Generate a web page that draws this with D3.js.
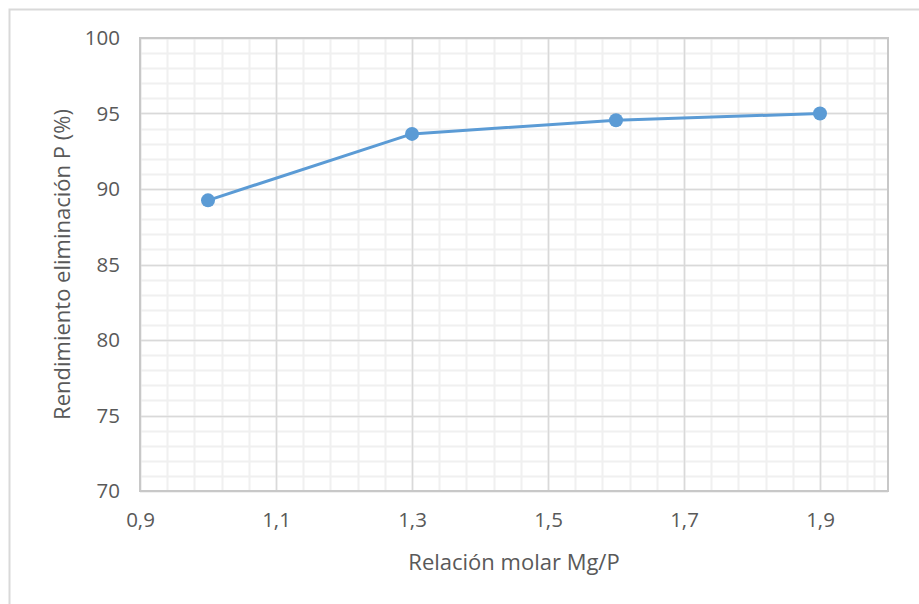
<!DOCTYPE html>
<html>
<head>
<meta charset="utf-8">
<script src="https://cdn.jsdelivr.net/npm/d3@7"></script>
<style>
  body { margin: 0; background: #fff; }
  svg { display: block; }
</style>
</head>
<body>
<svg id="chart" width="919" height="604"></svg>
<script>
// data
var ratios = [1.0, 1.3, 1.6, 1.9];
var yields = [89.25, 93.65, 94.55, 95.0];
var xTicks = [0.9, 1.1, 1.3, 1.5, 1.7, 1.9];
var yTicks = [70, 75, 80, 85, 90, 95, 100];
var xTitle = "Relación molar Mg/P";
var yTitle = "Rendimiento eliminación P (%)";

var W = 919, H = 604;
var MARGIN_LEFT = 140, MARGIN_TOP = 38, PLOT_RIGHT = 888, PLOT_BOTTOM = 491;
var FONT = "'Open Sans', sans-serif";
var TEXT_COLOR = "#595959";

var svg = d3.select("#chart");

// outer chart border (runs past right/bottom edges)
svg.append("rect")
    .attr("x", 9.5).attr("y", 9.5)
    .attr("width", W + 10).attr("height", H + 10)
    .attr("fill", "#fff")
    .attr("stroke", "#d9d9d9")
    .attr("stroke-width", 2);

var x = d3.scaleLinear().domain([0.9, 2.0]).range([MARGIN_LEFT, PLOT_RIGHT]);
var y = d3.scaleLinear().domain([70, 100]).range([PLOT_BOTTOM, MARGIN_TOP]);

var fmt = function(d){ return d3.format(".1f")(d).replace(".", ","); };

// minor grid
var xMinor = d3.range(0, 28).map(function(i){ return 0.9 + i * 0.04; });
var yMinor = d3.range(70, 101, 1);
var grid = svg.append("g");
grid.selectAll("line.xminor").data(xMinor).enter().append("line")
    .attr("x1", function(d){ return Math.round(x(d)) + 0.5; })
    .attr("x2", function(d){ return Math.round(x(d)) + 0.5; })
    .attr("y1", MARGIN_TOP).attr("y2", PLOT_BOTTOM)
    .attr("stroke", "#f0f0f0").attr("stroke-width", 2);
grid.selectAll("line.yminor").data(yMinor).enter().append("line")
    .attr("y1", function(d){ return Math.round(y(d)) + 0.5; })
    .attr("y2", function(d){ return Math.round(y(d)) + 0.5; })
    .attr("x1", MARGIN_LEFT).attr("x2", PLOT_RIGHT)
    .attr("stroke", "#f0f0f0").attr("stroke-width", 2);

// major grid
grid.selectAll("line.xmajor").data(xTicks).enter().append("line")
    .attr("x1", function(d){ return Math.round(x(d)) + 0.5; })
    .attr("x2", function(d){ return Math.round(x(d)) + 0.5; })
    .attr("y1", MARGIN_TOP).attr("y2", PLOT_BOTTOM)
    .attr("stroke", "#d9d9d9").attr("stroke-width", 1.5);
grid.selectAll("line.ymajor").data(yTicks).enter().append("line")
    .attr("y1", function(d){ return Math.round(y(d)) + 0.5; })
    .attr("y2", function(d){ return Math.round(y(d)) + 0.5; })
    .attr("x1", MARGIN_LEFT).attr("x2", PLOT_RIGHT)
    .attr("stroke", "#d9d9d9").attr("stroke-width", 1.5);

// plot border
svg.append("rect")
    .attr("x", MARGIN_LEFT).attr("y", MARGIN_TOP)
    .attr("width", PLOT_RIGHT - MARGIN_LEFT).attr("height", PLOT_BOTTOM - MARGIN_TOP)
    .attr("fill", "none").attr("stroke", "#c8c8c8").attr("stroke-width", 2);

// axes (labels only)
var xAxis = svg.append("g")
    .attr("transform", "translate(0," + PLOT_BOTTOM + ")")
    .call(d3.axisBottom(x).tickValues(xTicks).tickFormat(fmt).tickSize(0).tickPadding(21));
var yAxis = svg.append("g")
    .attr("transform", "translate(" + MARGIN_LEFT + ",0)")
    .call(d3.axisLeft(y).tickValues(yTicks).tickSize(0).tickPadding(20));
[xAxis, yAxis].forEach(function(a){
    a.select(".domain").remove();
    a.selectAll("text")
        .attr("fill", TEXT_COLOR)
        .style("font-family", FONT)
        .style("font-size", "20.5px");
});

// series
var pts = ratios.map(function(r, i){ return {x: r, y: yields[i]}; });
svg.append("path")
    .datum(pts)
    .attr("fill", "none")
    .attr("stroke", "#5b9bd5")
    .attr("stroke-width", 3)
    .attr("stroke-linejoin", "round")
    .attr("d", d3.line().x(function(d){ return x(d.x); }).y(function(d){ return y(d.y); }));
svg.selectAll("circle.pt").data(pts).enter().append("circle")
    .attr("cx", function(d){ return x(d.x); })
    .attr("cy", function(d){ return y(d.y); })
    .attr("r", 7)
    .attr("fill", "#5b9bd5");

// titles
svg.append("text")
    .attr("x", (MARGIN_LEFT + PLOT_RIGHT) / 2)
    .attr("y", 570)
    .attr("text-anchor", "middle")
    .attr("fill", TEXT_COLOR)
    .style("font-family", FONT)
    .style("font-size", "22px")
    .text(xTitle);
svg.append("text")
    .attr("transform", "translate(70," + ((MARGIN_TOP + PLOT_BOTTOM) / 2) + ") rotate(-90)")
    .attr("text-anchor", "middle")
    .attr("fill", TEXT_COLOR)
    .style("font-family", FONT)
    .style("font-size", "22px")
    .text(yTitle);
</script>
</body>
</html>
